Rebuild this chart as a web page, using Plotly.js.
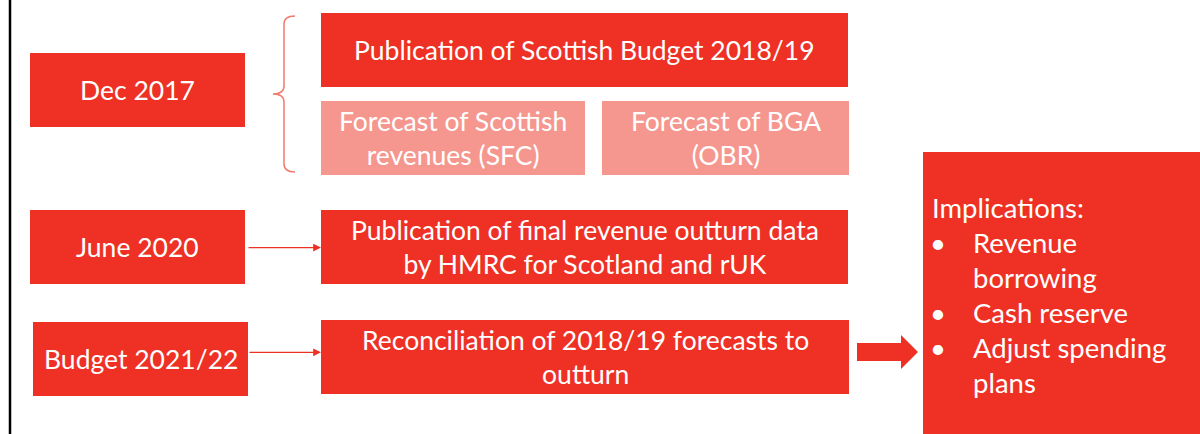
<!DOCTYPE html>
<html>
<head>
<meta charset="utf-8">
<script src="https://cdn.plot.ly/plotly-3.0.1.min.js"></script>
<style>html,body{margin:0;padding:0;background:#fff;}#chart{width:1200px;height:434px;}</style>
</head>
<body>
<div id="chart"></div>
<script>
// ---- content (text labels of the diagram) ----
const dateLabels = ["Dec 2017", "June 2020", "Budget 2021/22"];
const eventLabels = [
  "Publication of Scottish Budget 2018/19",
  "Publication of final revenue outturn data<br>by HMRC for Scotland and rUK",
  "Reconciliation of 2018/19 forecasts to<br>outturn"
];
const forecastLabels = ["Forecast of Scottish<br>revenues (SFC)", "Forecast of BGA<br>(OBR)"];
const implicationsTitle = "Implications:";
const implicationItems = [["Revenue", "borrowing"], ["Cash reserve"], ["Adjust spending", "plans"]];

// ---- layout geometry (pixel space) ----
const RED = "#EE3124";
const PINK = "#F5978F";
const FONT = "Lato";
const FS = 26.5;
const FS_IMPL = 27.5;

const dateBoxes = [[30, 245, 53, 127], [30, 245, 210, 284], [33, 248, 322, 396]];
const eventBoxes = [[321, 848, 13, 87], [321, 848, 210, 284], [321, 849, 320, 394]];
const forecastBoxes = [[321, 585, 101, 175], [602, 849, 101, 175]];
const implBox = [923, 1200, 152, 434];

const shapes = [];
const annotations = [];

function box(b, color) {
  shapes.push({type: "rect", xref: "x", yref: "y", x0: b[0], x1: b[1], y0: b[2], y1: b[3],
    fillcolor: color, line: {width: 0}, layer: "below"});
}
function centeredText(b, text, size) {
  annotations.push({xref: "x", yref: "y", x: (b[0] + b[1]) / 2, y: (b[2] + b[3]) / 2,
    text: text, showarrow: false, xanchor: "center", yanchor: "middle", align: "center",
    font: {family: FONT, size: size || FS, color: "#ffffff"}});
}

// left black rule
shapes.push({type: "line", xref: "x", yref: "y", x0: 10, x1: 10, y0: 0, y1: 434,
  line: {color: "#000000", width: 2.5}});

dateBoxes.forEach((b, i) => { box(b, RED); centeredText(b, dateLabels[i]); });
eventBoxes.forEach((b, i) => { box(b, RED); centeredText(b, eventLabels[i]); });
forecastBoxes.forEach((b, i) => { box(b, PINK); centeredText(b, forecastLabels[i]); });
box(implBox, RED);

// curly brace
shapes.push({type: "path", xref: "x", yref: "y",
  path: "M295,16 Q284,16 284,24 L284,86 Q284,94 273,94 Q284,94 284,102 L284,164 Q284,172 295,172",
  line: {color: "#F27A6E", width: 1.5}});

// thin arrows
[[247, 247.6], [248, 352.3]].forEach(a => {
  annotations.push({xref: "x", yref: "y", axref: "x", ayref: "y", x: 321, y: a[1], ax: a[0], ay: a[1],
    text: "", showarrow: true, arrowhead: 2, arrowsize: 1.3, arrowwidth: 1.2, arrowcolor: RED, standoff: 0, startstandoff: 0});
});

// block arrow
shapes.push({type: "path", xref: "x", yref: "y",
  path: "M857,343 L901,343 L901,335 L918,352 L901,369 L901,361 L857,361 Z",
  fillcolor: RED, line: {width: 0}});

// implications text
const lineStep = 35;
let yLine = 207;
annotations.push({xref: "x", yref: "y", x: 930, y: yLine, text: implicationsTitle, showarrow: false,
  xanchor: "left", yanchor: "middle", font: {family: FONT, size: FS_IMPL, color: "#ffffff"}});
implicationItems.forEach(item => {
  item.forEach((line, j) => {
    yLine += lineStep;
    if (j === 0) {
      annotations.push({xref: "x", yref: "y", x: 938, y: yLine, text: "•", showarrow: false,
        xanchor: "center", yanchor: "middle", font: {family: FONT, size: FS_IMPL, color: "#ffffff"}});
    }
    annotations.push({xref: "x", yref: "y", x: 971, y: yLine, text: line, showarrow: false,
      xanchor: "left", yanchor: "middle", font: {family: FONT, size: FS_IMPL, color: "#ffffff"}});
  });
});

const data = [{type: "scatter", x: [0, 1200], y: [0, 434], mode: "none", hoverinfo: "skip", showlegend: false}];

const layout = {
  width: 1200, height: 434,
  margin: {l: 0, r: 0, t: 0, b: 0, pad: 0},
  paper_bgcolor: "#ffffff", plot_bgcolor: "#ffffff",
  xaxis: {range: [0, 1200], visible: false, fixedrange: true},
  yaxis: {range: [434, 0], visible: false, fixedrange: true},
  shapes: shapes,
  annotations: annotations,
  showlegend: false
};

Plotly.newPlot("chart", data, layout, {staticPlot: true, displayModeBar: false});
</script>
</body>
</html>
